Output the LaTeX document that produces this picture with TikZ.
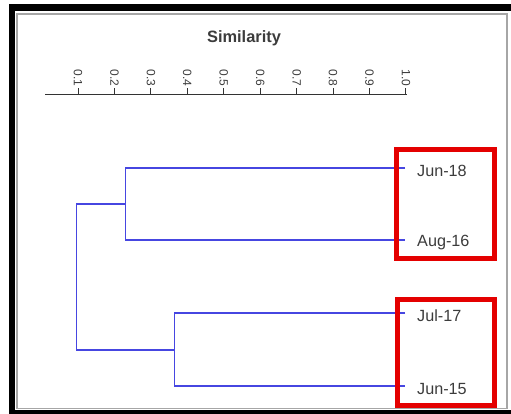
\documentclass[tikz,border=0pt]{standalone}
\usepackage{fontspec}
\setmainfont{Liberation Sans}
\definecolor{dblue}{RGB}{70,70,225}
\definecolor{hred}{RGB}{228,0,0}
\definecolor{txtgray}{RGB}{60,60,60}
\tikzset{
  br/.style={draw=dblue,line width=1.3pt},
  leaf/.style={anchor=west,inner sep=0pt,text=txtgray,font=\fontsize{16.2}{18}\selectfont},
  ticklab/.style={rotate=-90,anchor=east,inner sep=0pt,text=txtgray,font=\fontsize{12}{13}\selectfont},
  hbox/.style={draw=hred,line width=5pt},
}
\begin{document}
\begin{tikzpicture}[x=1pt,y=-1pt]
\useasboundingbox (0,0) rectangle (511,414);
\fill[white] (0,0) rectangle (511,414);
% frame
\fill[black] (9,4) rectangle (511,11);
\fill[black] (9,4) rectangle (15,414);
\fill[black] (9,410) rectangle (511,414);
\draw[gray!70,line width=1.6pt] (17,14) rectangle (507,408.5);
% title
\node[text=txtgray,font=\bfseries\fontsize{16.4}{18}\selectfont,inner sep=0pt] (title) at (244,38) {Similarity};
% axis
\coordinate (ax0) at (45,95);
\coordinate (ax1) at (407,95);
\draw[black!80,line width=1pt] (ax0) -- (ax1);
\foreach \v [count=\i from 0] in {0.1,0.2,0.3,0.4,0.5,0.6,0.7,0.8,0.9,1.0}{
  \pgfmathsetmacro{\xx}{78+\i*36.44}
  \coordinate (t\i) at (\xx,95);
  \coordinate (tt\i) at (\xx,88);
  \draw[black!80,line width=1pt] (t\i) -- (tt\i);
  \node[ticklab] (tl\i) at (\xx,86.5) {\v};
}
% leaf ends
\coordinate (e1) at (405,168);
\coordinate (e2) at (405,240);
\coordinate (e3) at (405,313);
\coordinate (e4) at (405,386);
\node[leaf] (l1) at (417,171) {Jun-18};
\node[leaf] (l2) at (417,243) {Aug-16};
\node[leaf] (l3) at (417,316) {Jul-17};
\node[leaf] (l4) at (417,389) {Jun-15};
% merges
\coordinate (a1) at (125.7,168);
\coordinate (a2) at (125.7,240);
\coordinate (am) at (125.7,204);
\coordinate (b1) at (174.3,313);
\coordinate (b2) at (174.3,386);
\coordinate (bm) at (174.3,350);
\coordinate (r1) at (76.3,204);
\coordinate (r2) at (76.3,350);
\draw[br] (e1) -- (a1) -- (a2) -- (e2);
\draw[br] (e3) -- (b1) -- (b2) -- (e4);
\draw[br] (am) -- (r1) -- (r2) -- (bm);
% highlight boxes
\draw[hbox] (396.5,149.5) rectangle (494.5,258.5);
\draw[hbox] (397.5,299.5) rectangle (494.5,405.5);
\end{tikzpicture}
\end{document}
